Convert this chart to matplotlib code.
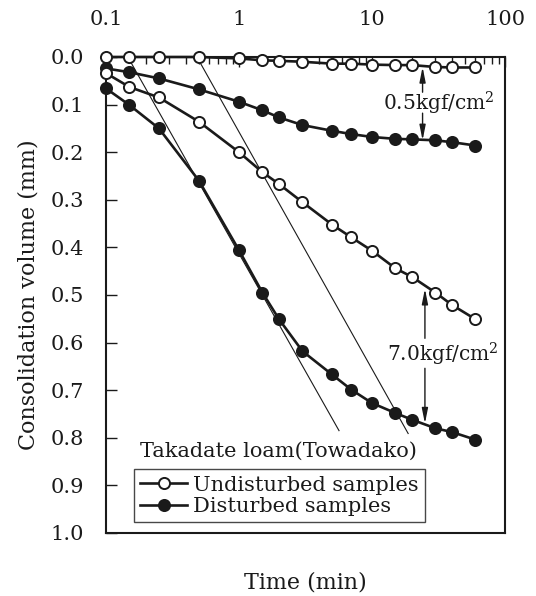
import matplotlib
matplotlib.use("Agg")
import matplotlib.pyplot as plt
from matplotlib.ticker import FixedLocator, FixedFormatter, LogLocator, NullFormatter

plt.rcParams['font.family'] = ['DejaVu Serif']
plt.rcParams['mathtext.fontset'] = 'dejavuserif'

# ---- data ----
times = [0.1, 0.15, 0.25, 0.5, 1, 1.5, 2, 3, 5, 7, 10, 15, 20, 30, 40, 60]
undist_05 = [0.0, 0.0, 0.0, 0.0, 0.003, 0.007, 0.008, 0.010, 0.014, 0.014,
             0.016, 0.017, 0.017, 0.021, 0.022, 0.022]
dist_05 = [0.024, 0.032, 0.045, 0.068, 0.094, 0.112, 0.127, 0.143, 0.155, 0.162,
           0.168, 0.172, 0.173, 0.175, 0.179, 0.186]
undist_70 = [0.034, 0.063, 0.085, 0.136, 0.200, 0.242, 0.267, 0.305, 0.352, 0.379,
             0.407, 0.444, 0.462, 0.495, 0.521, 0.551]
dist_70 = [0.066, 0.101, 0.150, 0.260, 0.406, 0.495, 0.551, 0.618, 0.667, 0.699,
           0.727, 0.748, 0.762, 0.780, 0.788, 0.804]

# construction (tangent) lines: (t_start, v_start), (t_end, v_end)
tangent_a_t = [0.146, 5.65]
tangent_a_v = [0.0, 0.785]
tangent_b_t = [0.483, 18.7]
tangent_b_v = [0.0, 0.791]

x_ticks = [0.1, 1, 10, 100]
x_ticklabels = ['0.1', '1', '10', '100']
y_ticks = [0.0, 0.1, 0.2, 0.3, 0.4, 0.5, 0.6, 0.7, 0.8, 0.9, 1.0]
y_ticklabels = ['0.0', '0.1', '0.2', '0.3', '0.4', '0.5', '0.6', '0.7', '0.8', '0.9', '1.0']

ink = '#1a1a1a'

fig = plt.figure(figsize=(5.36, 5.96), dpi=100)
ax = fig.add_axes([106/536, 1 - 533/596, (505-106)/536, (533-57)/596])

ax.set_xscale('log')
ax.set_xlim(0.1, 100)
ax.set_ylim(1.0, 0.0)

# tangent lines
ax.plot(tangent_a_t, tangent_a_v, color=ink, lw=0.8, zorder=2)
ax.plot(tangent_b_t, tangent_b_v, color=ink, lw=0.8, zorder=2)

ms = 8
mew = 1.4
lw = 1.9
open_kw = dict(color=ink, lw=lw, marker='o', ms=ms, mfc='white', mec=ink, mew=mew,
               clip_on=False, zorder=3)
fill_kw = dict(color=ink, lw=lw, marker='o', ms=ms, mfc=ink, mec=ink, mew=mew,
               clip_on=False, zorder=3)

l1, = ax.plot(times, undist_05, **open_kw)
l2, = ax.plot(times, dist_05, **fill_kw)
ax.plot(times, undist_70, **open_kw)
ax.plot(times, dist_70, **fill_kw)

# axes styling
ax.xaxis.set_ticks_position('top')
ax.xaxis.set_label_position('bottom')
ax.xaxis.set_major_locator(FixedLocator(x_ticks))
ax.xaxis.set_major_formatter(FixedFormatter(x_ticklabels))
ax.xaxis.set_minor_locator(LogLocator(base=10, subs=range(2, 10)))
ax.xaxis.set_minor_formatter(NullFormatter())
ax.tick_params(axis='x', which='major', direction='in', length=7, width=1.0,
               labelsize=15, pad=20, colors=ink)
ax.tick_params(axis='x', which='minor', direction='in', length=5, width=1.0, colors=ink)

ax.yaxis.set_major_locator(FixedLocator(y_ticks))
ax.yaxis.set_major_formatter(FixedFormatter(y_ticklabels))
ax.tick_params(axis='y', which='major', direction='in', length=8, width=1.0,
               labelsize=15, pad=16, colors=ink)
for sp in ax.spines.values():
    sp.set_linewidth(1.5)
    sp.set_color(ink)

ax.set_xlabel('Time (min)', fontsize=16, color=ink, labelpad=28)
ax.set_ylabel('Consolidation volume (mm)', fontsize=16, color=ink, labelpad=8)

# annotations
arrow_kw = dict(arrowstyle='-|>,head_length=0.9,head_width=0.18', color=ink, lw=1.0,
                shrinkA=0, shrinkB=0)
ax.annotate('', xy=(24, 0.021), xytext=(24, 0.074), arrowprops=arrow_kw)
ax.annotate('', xy=(24, 0.175), xytext=(24, 0.118), arrowprops=arrow_kw)
ax.text(32, 0.097, '0.5kgf/cm$^2$', ha='center', va='center', fontsize=14.5, color=ink)

ax.annotate('', xy=(25, 0.487), xytext=(25, 0.591), arrowprops=arrow_kw)
ax.annotate('', xy=(25, 0.770), xytext=(25, 0.654), arrowprops=arrow_kw)
ax.text(34, 0.625, '7.0kgf/cm$^2$', ha='center', va='center', fontsize=14.5, color=ink)

ax.text(0.18, 0.829, 'Takadate loam(Towadako)', ha='left', va='center',
        fontsize=15, color=ink)

leg = ax.legend([l1, l2], ['Undisturbed samples', 'Disturbed samples'],
                loc='lower left', bbox_to_anchor=(0.07, 0.023), borderaxespad=0,
                fontsize=15, frameon=True, fancybox=False, handlelength=2.25,
                handletextpad=0.3, labelspacing=0.1, borderpad=0.3)
leg.get_frame().set_edgecolor(ink)
leg.get_frame().set_linewidth(1.0)
for t in leg.get_texts():
    t.set_color(ink)

fig.savefig('out.png', dpi=100, facecolor='white')
